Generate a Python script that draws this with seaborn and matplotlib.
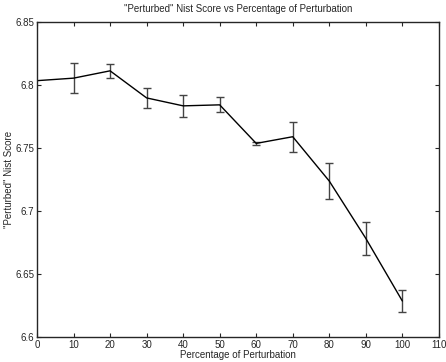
import numpy as np
import pandas as pd
import seaborn as sns
import matplotlib
matplotlib.use("Agg")
import matplotlib.pyplot as plt

pct = [0, 10, 20, 30, 40, 50, 60, 70, 80, 90, 100]
score = [6.8035, 6.8055, 6.8113, 6.7898, 6.7835, 6.7843, 6.7537, 6.7590, 6.7238, 6.6783, 6.6286]
err = [0.0, 0.0118, 0.0058, 0.0082, 0.0085, 0.0060, 0.0015, 0.0119, 0.0143, 0.0130, 0.0084]

data = pd.DataFrame({'pct': pct, 'score': score, 'err': err})

sns.set_style("ticks")
plt.rcParams['font.family'] = ['Liberation Sans', 'DejaVu Sans']
plt.rcParams['xtick.direction'] = 'in'
plt.rcParams['ytick.direction'] = 'in'

fig = plt.figure(figsize=(4.46, 3.62), dpi=100)
ax = fig.add_axes([0.083, 0.069, 0.901, 0.870])

eb = data[data['err'] > 0]
ax.errorbar(eb['pct'], eb['score'], yerr=eb['err'], fmt='none', ecolor='#444444',
            elinewidth=1.0, capsize=3, capthick=1.0)
sns.lineplot(ax=ax, data=data, x='pct', y='score', color='black', linewidth=1.0)

ax.set_xlim(0, 110)
ax.set_ylim(6.6, 6.85)
ax.set_xticks(np.arange(0, 111, 10))
ax.set_yticks([6.6, 6.65, 6.7, 6.75, 6.8, 6.85])
ax.set_yticklabels(['6.6', '6.65', '6.7', '6.75', '6.8', '6.85'])
ax.tick_params(labelsize=7, length=3, width=0.8, top=True, right=True, pad=2)
for s in ax.spines.values():
    s.set_linewidth(1.0)
    s.set_visible(True)

ax.set_title('"Perturbed" Nist Score vs Percentage of Perturbation', fontsize=7, pad=7)
ax.set_xlabel('Percentage of Perturbation', fontsize=7, labelpad=0)
ax.set_ylabel('"Perturbed" Nist Score', fontsize=7, labelpad=1)

fig.savefig('out.png', dpi=100)
